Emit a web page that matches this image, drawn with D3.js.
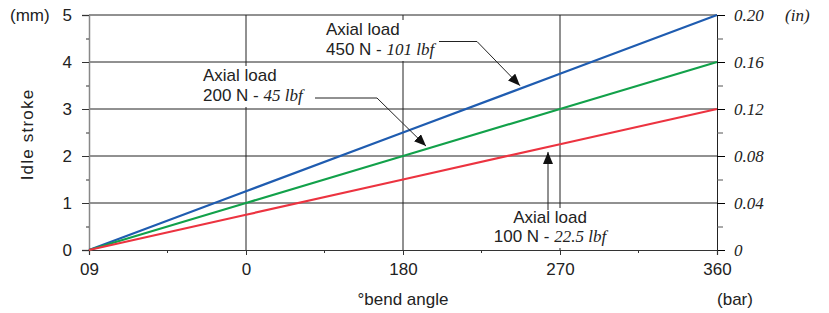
<!DOCTYPE html>
<html lang="en">
<head>
    <meta charset="UTF-8">
    <title>Idle stroke vs bend angle</title>
    <style>
        body { margin: 0; background: #fff; }
        .lbl { font: 17px "Liberation Sans", Arial, sans-serif; fill: #222; }
        .ital { font: italic 17px "Liberation Serif", "Times New Roman", serif; fill: #222; }
        .axis-r text { font: italic 17px "Liberation Serif", "Times New Roman", serif; fill: #222; }
    </style>
</head>
<body>
    <div id="chart"></div>
    <script src="https://d3js.org/d3.v7.min.js"></script>
    <script>
        const categories = ["09", "0", "180", "270", "360"];
        const mmTicks = [0, 1, 2, 3, 4, 5];
        const inTicks = [0, 0.04, 0.08, 0.12, 0.16, 0.20];

        const load450 = [0, 1.25, 2.5, 3.75, 5];
        const load200 = [0, 1, 2, 3, 4];
        const load100 = [0, 0.75, 1.5, 2.25, 3];

        const series = [
            { name: "450", values: load450, color: "#1f5cb0" },
            { name: "200", values: load200, color: "#12a14a" },
            { name: "100", values: load100, color: "#ec3340" }
        ];

        const margin = { top: 15, right: 112, bottom: 63, left: 89 };
        const W = 829, H = 313;
        const width = W - margin.left - margin.right;
        const height = H - margin.top - margin.bottom;

        const svg = d3.select("#chart")
            .append("svg")
            .attr("width", W)
            .attr("height", H)
            .append("g")
            .attr("transform", `translate(${margin.left},${margin.top})`);

        const x = d3.scalePoint().domain(categories).range([0, width]);
        const y = d3.scaleLinear().domain([0, 5]).range([height, 0]);
        const yIn = d3.scaleLinear().domain([0, 0.20]).range([height, 0]);

        // minor tick positions: midpoints between categories
        const step = x.step();
        const minorX = categories.slice(1).map(c => x(c) - step / 2);

        // grid
        svg.selectAll("line.hgrid")
            .data(mmTicks.slice(1))
            .enter().append("line")
            .attr("x1", 0).attr("x2", width)
            .attr("y1", d => y(d)).attr("y2", d => y(d))
            .attr("stroke", "#222").attr("stroke-width", 1);

        svg.selectAll("line.vgrid")
            .data(categories.slice(1, 4))
            .enter().append("line")
            .attr("x1", d => x(d)).attr("x2", d => x(d))
            .attr("y1", 0).attr("y2", height)
            .attr("stroke", "#222").attr("stroke-width", 1);

        // left axis
        const yAxis = svg.append("g")
            .call(d3.axisLeft(y).tickValues(mmTicks).tickSize(7).tickPadding(10).tickFormat(d3.format("d")));
        yAxis.selectAll("text").attr("class", "lbl").attr("font-size", null).attr("font-family", null);
        yAxis.select(".domain").attr("stroke", "#888").attr("stroke-width", 1.5);
        yAxis.selectAll(".tick line").attr("stroke", "#333");
        svg.append("g")
            .call(d3.axisLeft(y).tickValues(d3.range(0.5, 5, 1)).tickSize(3).tickFormat(""))
            .call(g => g.select(".domain").remove())
            .selectAll(".tick line").attr("stroke", "#333");

        // right axis
        const yr = svg.append("g")
            .attr("class", "axis-r")
            .attr("transform", `translate(${width},0)`)
            .call(d3.axisRight(yIn).tickValues(inTicks).tickSize(8).tickPadding(9)
                .tickFormat(d => d === 0 ? "0" : d3.format(".2f")(d)));
        yr.selectAll("text").attr("font-size", null).attr("font-family", null);
        yr.select(".domain").attr("stroke", "#222");
        svg.append("g")
            .attr("transform", `translate(${width},0)`)
            .call(d3.axisRight(yIn).tickValues(d3.range(0.02, 0.2, 0.04)).tickSize(6).tickFormat(""))
            .call(g => g.select(".domain").remove())
            .selectAll(".tick line").attr("stroke", "#555");

        // bottom axis
        const xa = svg.append("g")
            .attr("transform", `translate(0,${height})`)
            .call(d3.axisBottom(x).tickSize(5).tickPadding(8));
        xa.selectAll("text").attr("class", "lbl").attr("font-size", null).attr("font-family", null);
        xa.select(".domain").attr("stroke", "#333").attr("stroke-width", 1.2);
        xa.selectAll(".tick line").attr("stroke", "#333");
        const minor = svg.append("g").attr("transform", `translate(0,${height})`);
        minor.selectAll("line")
            .data(minorX)
            .enter().append("line")
            .attr("x1", d => d).attr("x2", d => d)
            .attr("y1", 0).attr("y2", 3)
            .attr("stroke", "#333");

        // series
        const line = d3.line()
            .x((d, i) => x(categories[i]))
            .y(d => y(d));

        svg.selectAll("path.series")
            .data(series)
            .enter().append("path")
            .attr("fill", "none")
            .attr("stroke", d => d.color)
            .attr("stroke-width", 2.2)
            .attr("d", d => line(d.values));

        // annotations
        const defs = svg.append("defs");
        defs.append("marker")
            .attr("id", "arr")
            .attr("viewBox", "0 0 12 10")
            .attr("refX", 12).attr("refY", 5)
            .attr("markerWidth", 12).attr("markerHeight", 10)
            .attr("markerUnits", "userSpaceOnUse")
            .attr("orient", "auto")
            .append("path")
            .attr("d", "M0,0 L12,5 L0,10 Z")
            .attr("fill", "#111");

        // value on series at a given x pixel
        function onSeries(vals, px) {
            const t = px / width;
            return y(vals[vals.length - 1] * t);
        }

        const notes = [
            { lx: 322 - margin.left, ly: 20 - margin.top, num: "450 N - ", imp: "101 lbf",
              path: [[439, 41.5], [477, 41.5]], tip: 520, vals: load450, anchor: "start" },
            { lx: 199 - margin.left, ly: 66 - margin.top, num: "200 N - ", imp: "45 lbf",
              path: [[315, 98], [377, 98]], tip: 426, vals: load200, anchor: "start" },
            { lx: 494 - margin.left, ly: 208 - margin.top, num: "100 N - ", imp: "22.5 lbf",
              path: [[548, 210]], tip: 548, vals: load100, anchor: "middle" }
        ];

        notes.forEach(n => {
            const g = svg.append("g");
            if (n.anchor === "start") {
                g.append("rect")
                    .attr("x", n.lx).attr("y", n.ly)
                    .attr("width", 111).attr("height", 41)
                    .attr("fill", "#fff");
                g.append("text").attr("class", "lbl")
                    .attr("x", n.lx + 4).attr("y", n.ly + 15).text("Axial load");
                const t2 = g.append("text").attr("class", "lbl")
                    .attr("x", n.lx + 4).attr("y", n.ly + 35);
                t2.append("tspan").text(n.num);
                t2.append("tspan").attr("class", "ital").text(n.imp);
            } else {
                g.append("rect")
                    .attr("x", n.lx).attr("y", n.ly)
                    .attr("width", 112).attr("height", 40)
                    .attr("fill", "#fff");
                const cx = n.lx + 56;
                g.append("text").attr("class", "lbl").attr("text-anchor", "middle")
                    .attr("x", cx).attr("y", n.ly + 15).text("Axial load");
                const t2 = g.append("text").attr("class", "lbl").attr("text-anchor", "middle")
                    .attr("x", cx).attr("y", n.ly + 34);
                t2.append("tspan").text(n.num);
                t2.append("tspan").attr("class", "ital").text(n.imp);
            }
            const tipX = n.tip - margin.left;
            const tipY = onSeries(n.vals, tipX) + (n.anchor === "middle" ? 5 : -3);
            const pts = n.path.map(p => [p[0] - margin.left, p[1] - margin.top]);
            pts.push([tipX, tipY]);
            g.append("path")
                .attr("d", d3.line()(pts))
                .attr("fill", "none")
                .attr("stroke", "#222")
                .attr("stroke-width", 1)
                .attr("marker-end", "url(#arr)");
        });

        // titles
        svg.append("text").attr("class", "lbl")
            .attr("x", 10 - margin.left).attr("y", 21 - margin.top)
            .text("(mm)");
        svg.append("text").attr("class", "ital")
            .attr("x", 785 - margin.left).attr("y", 21 - margin.top)
            .text("(in)");
        svg.append("text").attr("class", "lbl")
            .attr("text-anchor", "middle")
            .attr("transform", `translate(${33 - margin.left},${height / 2 + 2}) rotate(-90)`)
            .attr("letter-spacing", 1.2)
            .text("Idle stroke");
        svg.append("text").attr("class", "lbl")
            .attr("text-anchor", "middle")
            .attr("x", width / 2).attr("y", height + 55)
            .text("°bend angle");
        svg.append("text").attr("class", "lbl")
            .attr("text-anchor", "middle")
            .attr("x", width + 18).attr("y", height + 55)
            .text("(bar)");
    </script>
</body>
</html>
